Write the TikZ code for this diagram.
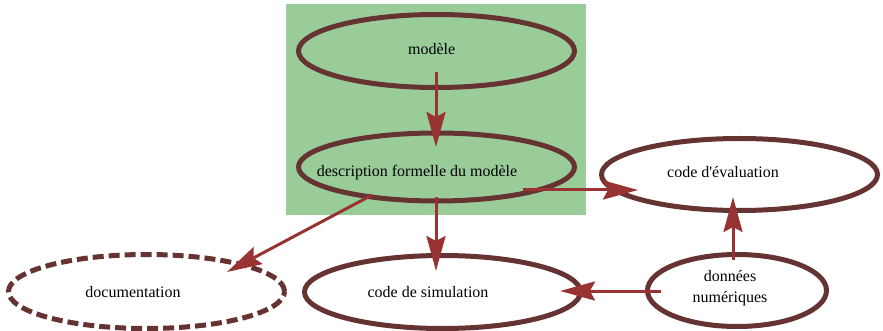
\documentclass[tikz,border=0pt]{standalone}
\usepackage{fontspec}
\setmainfont{Liberation Serif}
\usetikzlibrary{arrows.meta,calc,shapes.geometric}
\definecolor{boxgreen}{HTML}{99CC99}
\definecolor{ringbrown}{HTML}{663333}
\definecolor{arrowred}{HTML}{993333}
\tikzset{
  ring/.style={ellipse, draw=ringbrown, line width=5pt, inner sep=0pt},
  lbl/.style={anchor=base, inner sep=0pt, font=\fontsize{16}{21}\selectfont, text=black},
  link/.style={draw=arrowred, line width=3pt,
    -{Stealth[length=35pt, width=19pt, inset=5pt, fill=arrowred]}},
}
\begin{document}
\begin{tikzpicture}[x=1pt, y=-1pt]
\useasboundingbox (0,0) rectangle (883,331);
% shaded group behind the two model nodes
\fill[boxgreen] (286,4) rectangle (586,215);

% ellipses
\node[ring, minimum width=276pt, minimum height=73pt] (m) at (436.5,51) {};
\node[ring, minimum width=276pt, minimum height=68pt] (d) at (436.5,167) {};
\node[ring, minimum width=276pt, minimum height=72pt] (ev) at (739.5,174.5) {};
\node[ring, dash pattern=on 11pt off 5pt, minimum width=276pt, minimum height=74pt] (doc) at (146.5,291.5) {};
\node[ring, minimum width=276pt, minimum height=73pt] (sim) at (442.5,292) {};
\node[ring, minimum width=179pt, minimum height=72pt] (num) at (737,290.5) {};

% labels
\node[lbl] (m-t) at (431.7,55) {modèle};
\node[lbl] (d-t) at (417,177) {description formelle du modèle};
\node[lbl] (ev-t) at (723,178) {code d\textquotesingle évaluation};
\node[lbl] (doc-t) at (133,297) {documentation};
\node[lbl] (sim-t) at (428,297) {code de simulation};
\node[lbl, align=center, anchor=center] (num-t) at (730,288) {données\\numériques};

% connectors
\draw[link] ($(m)+(-0.5,21)$) -- ($(d)+(-0.5,-20)$);
\draw[link] ($(d)+(-64.5,28)$) -- ($(doc)+(80.5,-19.5)$);
\draw[link] ($(d)+(-0.5,30)$) -- ($(sim)+(-6.5,-21)$);
\draw[link] ($(d)+(86.5,23)$) -- ($(ev)+(-101.5,15.5)$);
\draw[link] ($(num)+(-4,-30.5)$) -- ($(ev)+(-6.5,22.5)$);
\draw[link] ($(num)+(-76,0.5)$) -- ($(sim)+(117.5,-1)$);
\end{tikzpicture}
\end{document}
